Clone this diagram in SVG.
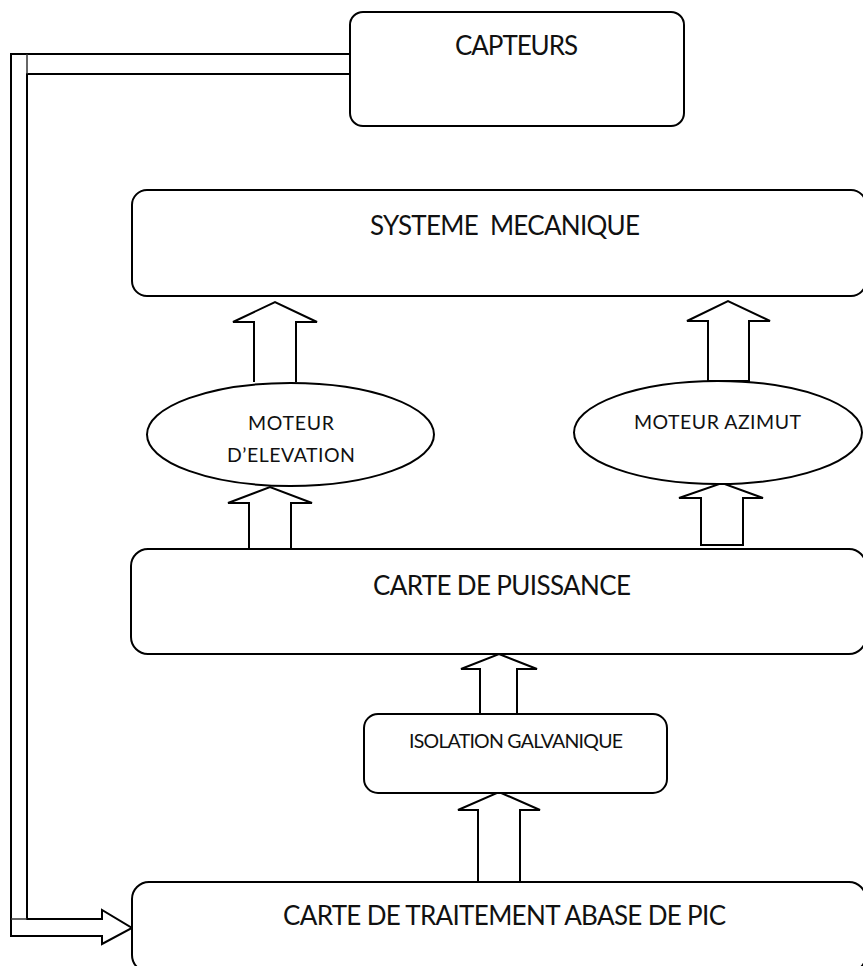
<svg xmlns="http://www.w3.org/2000/svg" width="863" height="966" viewBox="0 0 863 966">
  <style>
    .box { fill: #fff; stroke: #000; stroke-width: 2; }
    .ell { fill: #fff; stroke: #000; stroke-width: 2; }
    .arrow { fill: #fff; stroke: #000; stroke-width: 2; stroke-linejoin: miter; }
    .thin { fill: none; stroke: #333; stroke-width: 1.5; }
    .big { font-family: Lato, "Liberation Sans", sans-serif; font-size: 26px; fill: #111; text-anchor: middle; }
    .small { font-family: Lato, "Liberation Sans", sans-serif; font-size: 19.5px; fill: #111; text-anchor: middle; }
  </style>
  <rect width="863" height="966" fill="#fff"/>

  <!-- feedback path from the sensors back to the PIC board -->
  <g id="connectors">
    <path class="arrow" d="M350,54 L11,54 L11,936 L102,936 L102,944 L132,928 L102,910 L102,919 L27,919 L27,74 L350,74"/>
    <line class="thin" x1="27" y1="54" x2="27" y2="74"/>
    <line class="thin" x1="11" y1="919" x2="27" y2="919"/>

    <!-- block arrows between stages -->
    <path class="arrow" d="M254,382 L254,322 L233,322 L275,302 L317,322 L296,322 L296,382"/>
    <path class="arrow" d="M708,381 L708,321 L687,321 L728,301 L770,321 L749,321 L749,381 Z"/>
    <path class="arrow" d="M249,549 L249,503 L228,503 L270,487 L312,503 L291,503 L291,549"/>
    <path class="arrow" d="M701,545 L701,498 L679,498 L722,483 L763,498 L743,498 L743,545 Z"/>
    <path class="arrow" d="M480,714 L480,669 L461,669 L499,654 L537,669 L517,669 L517,714"/>
    <path class="arrow" d="M478,882 L478,810 L458,810 L499,792 L540,810 L520,810 L520,882"/>
  </g>

  <g id="capteurs">
    <rect class="box" x="350" y="12" width="334" height="114" rx="13"/>
    <text class="big" x="516.5" y="55" textLength="123">CAPTEURS</text>
  </g>

  <g id="systeme-mecanique">
    <rect class="box" x="132" y="190" width="734" height="106" rx="15"/>
    <text class="big" x="505" y="235" textLength="270" xml:space="preserve">SYSTEME  MECANIQUE</text>
  </g>

  <g id="moteur-elevation">
    <ellipse class="ell" cx="290.5" cy="434.5" rx="143.5" ry="51.5"/>
    <text class="small" x="291" y="430" textLength="86">MOTEUR</text>
    <text class="small" x="291" y="462" textLength="128">D’ELEVATION</text>
  </g>

  <g id="moteur-azimut">
    <ellipse class="ell" cx="718" cy="432.5" rx="144" ry="51.5"/>
    <text class="small" x="717.5" y="429" textLength="167">MOTEUR AZIMUT</text>
  </g>

  <g id="carte-puissance">
    <rect class="box" x="131" y="549" width="735" height="105" rx="17"/>
    <text class="big" x="502" y="595" textLength="258">CARTE DE PUISSANCE</text>
  </g>

  <g id="isolation-galvanique">
    <rect class="box" x="364" y="714" width="303" height="79" rx="14"/>
    <text class="small" x="516" y="748" textLength="214">ISOLATION GALVANIQUE</text>
  </g>

  <g id="carte-traitement">
    <rect class="box" x="132" y="882" width="734" height="90" rx="17"/>
    <text class="big" x="504.5" y="925" textLength="443">CARTE DE TRAITEMENT ABASE DE PIC</text>
  </g>
</svg>
